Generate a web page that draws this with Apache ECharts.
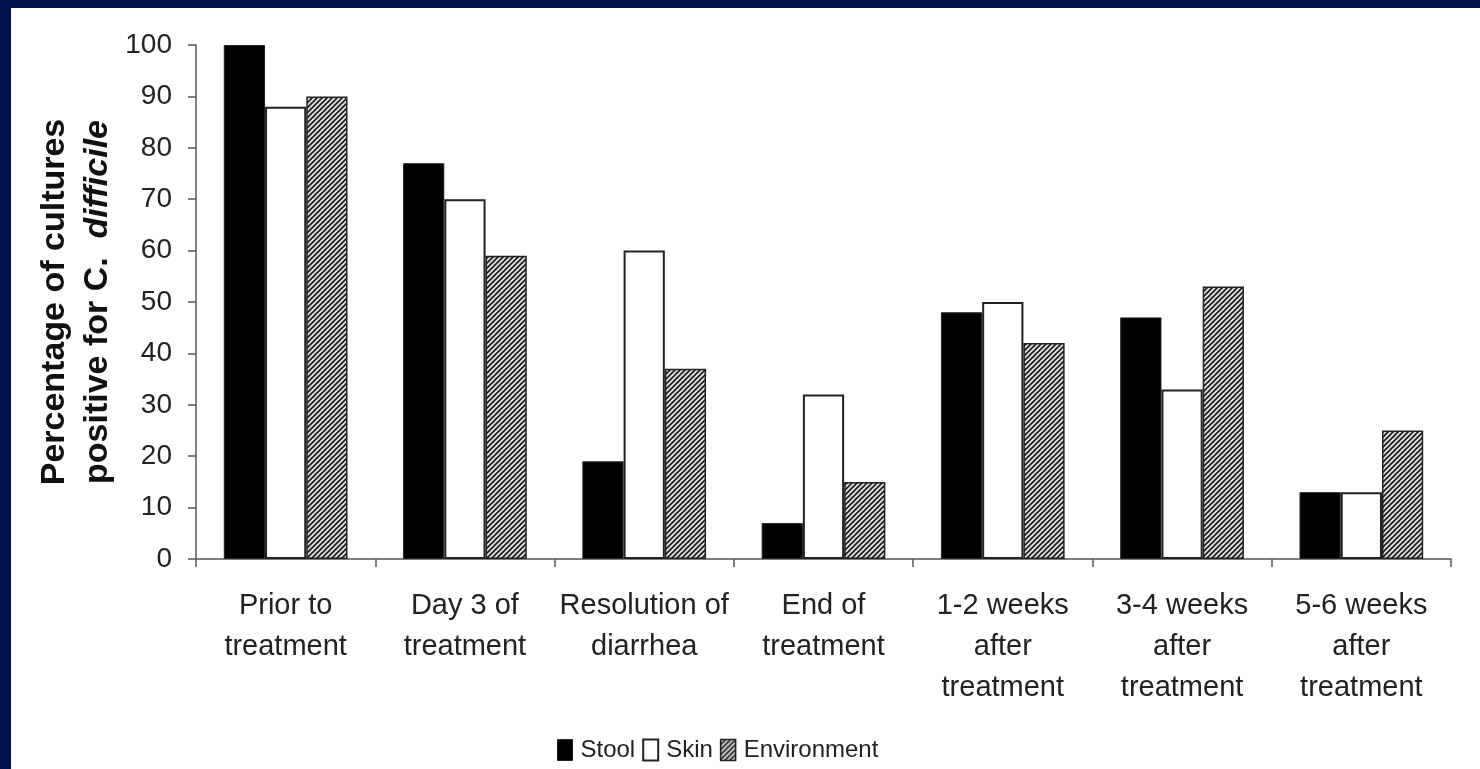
<!DOCTYPE html>
<html>
<head>
<meta charset="utf-8">
<script src="https://cdn.jsdelivr.net/npm/echarts@6/dist/echarts.min.js"></script>
<style>
html,body{margin:0;padding:0;background:#fff;}
#chart{width:1480px;height:769px;}
</style>
</head>
<body>
<div id="chart"></div>
<script>
const categories = [
  "Prior to\ntreatment",
  "Day 3 of\ntreatment",
  "Resolution of\ndiarrhea",
  "End of\ntreatment",
  "1-2 weeks\nafter\ntreatment",
  "3-4 weeks\nafter\ntreatment",
  "5-6 weeks\nafter\ntreatment"
];
const seriesNames = ["Stool", "Skin", "Environment"];
const stool = [100, 77, 19, 7, 48, 47, 13];
const skin = [88, 70, 60, 32, 50, 33, 13];
const environment = [90, 59, 37, 15, 42, 53, 25];
const yTicks = {min: 0, max: 100, interval: 10};

// hatch pattern
const pc = document.createElement('canvas');
pc.width = 5; pc.height = 5;
const ctx = pc.getContext('2d');
ctx.fillStyle = '#e0e0e0';
ctx.fillRect(0, 0, 5, 5);
ctx.strokeStyle = '#1a1a1a';
ctx.lineWidth = 1.6;
ctx.beginPath();
ctx.moveTo(-1, 6); ctx.lineTo(6, -1);
ctx.moveTo(-1, 1); ctx.lineTo(1, -1);
ctx.moveTo(4, 6); ctx.lineTo(6, 4);
ctx.stroke();
const hatch = {image: pc, repeat: 'repeat'};

const font = "'Liberation Sans', Arial, sans-serif";

const chart = echarts.init(document.getElementById('chart'));
chart.setOption({
  animation: false,
  backgroundColor: '#ffffff',
  textStyle: {fontFamily: font},
  graphic: [
    {type: 'rect', shape: {x: 0, y: 0, width: 1480, height: 8}, style: {fill: '#00124a'}, z: 100},
    {type: 'rect', shape: {x: 0, y: 0, width: 11, height: 769}, style: {fill: '#00124a'}, z: 100}
  ],
  grid: {left: 196, right: 29, top: 45, bottom: 210, containLabel: false},
  legend: {
    left: 552, top: 733,
    icon: 'rect',
    itemWidth: 15, itemHeight: 21, itemGap: 7,
    textStyle: {fontSize: 24, color: '#222', fontFamily: font, padding: [0, 0, 0, 3]},
    data: [
      {name: 'Stool', itemStyle: {color: '#000', borderColor: '#222', borderWidth: 1}},
      {name: 'Skin', itemStyle: {color: '#fff', borderColor: '#222', borderWidth: 2}},
      {name: 'Environment', itemStyle: {color: hatch, borderColor: '#222', borderWidth: 1.5}}
    ]
  },
  xAxis: {
    type: 'category',
    data: categories,
    axisLine: {lineStyle: {color: '#555', width: 1.5}},
    axisTick: {show: true, length: 8, lineStyle: {color: '#555', width: 1.5}},
    axisLabel: {fontSize: 29, lineHeight: 41, color: '#222', margin: 26, interval: 0, fontFamily: font},
    splitLine: {show: false}
  },
  yAxis: {
    type: 'value',
    min: yTicks.min, max: yTicks.max, interval: yTicks.interval,
    axisLine: {show: true, lineStyle: {color: '#555', width: 1.5}},
    axisTick: {show: true, length: 8, lineStyle: {color: '#555', width: 1.5}},
    axisLabel: {fontSize: 28, color: '#222', margin: 24, fontFamily: font},
    splitLine: {show: false},
    name: '{a|Percentage of cultures}\n{a|positive for C.  }{b|difficile}',
    nameLocation: 'middle',
    nameGap: 76,
    nameRotate: 90,
    nameTextStyle: {
      rich: {
        a: {fontSize: 34, fontWeight: 'bold', color: '#111', lineHeight: 43, fontFamily: font},
        b: {fontSize: 34, fontWeight: 'bold', fontStyle: 'italic', color: '#111', lineHeight: 43, fontFamily: font}
      }
    }
  },
  series: [
    {name: seriesNames[0], type: 'bar', data: stool, barGap: '0%', barCategoryGap: '31%',
      itemStyle: {color: '#000', borderColor: '#222', borderWidth: 1}},
    {name: seriesNames[1], type: 'bar', data: skin, barGap: '0%', barCategoryGap: '31%',
      itemStyle: {color: '#fff', borderColor: '#222', borderWidth: 2}},
    {name: seriesNames[2], type: 'bar', data: environment, barGap: '0%', barCategoryGap: '31%',
      itemStyle: {color: hatch, borderColor: '#222', borderWidth: 1.5}}
  ]
});
</script>
</body>
</html>
